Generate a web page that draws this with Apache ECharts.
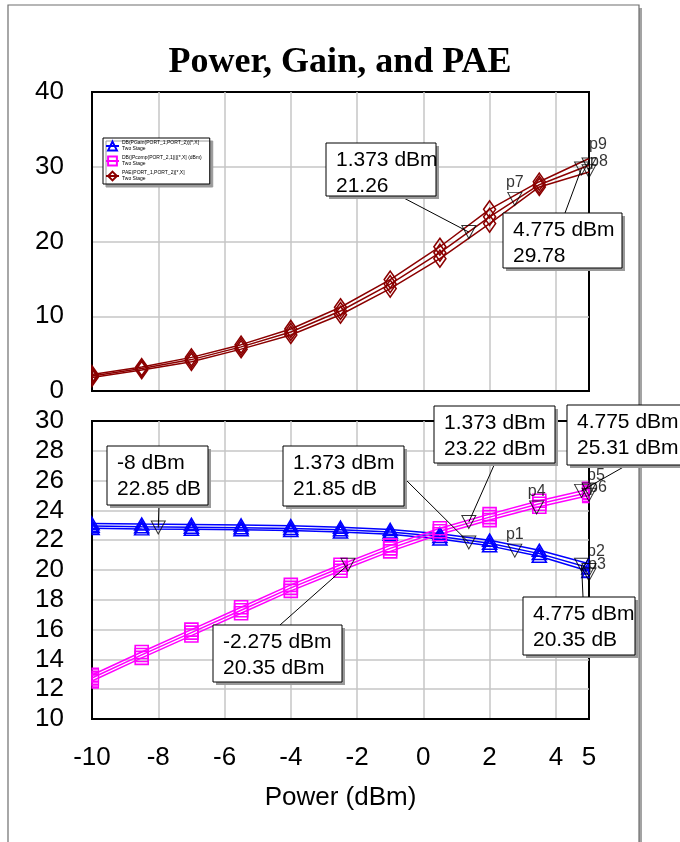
<!DOCTYPE html>
<html>
<head>
<meta charset="utf-8">
<title>Power, Gain, and PAE</title>
<script src="https://cdn.jsdelivr.net/npm/echarts@6/dist/echarts.min.js"></script>
<style>
  html, body { margin: 0; padding: 0; background: #fff; }
  #chart { width: 680px; height: 842px; }
</style>
</head>
<body>
<div id="chart"></div>
<script>
// Input power sweep points (dBm)
const powerIn = [-10, -8.5, -7, -5.5, -4, -2.5, -1, 0.5, 2, 3.5, 5];

// PAE (%) – three traces
const paeUpper = [2.2, 3.2, 4.5, 6.2, 8.3, 11.2, 14.9, 19.3, 24.3, 28.0, 31.1];
const paeMid   = [2.0, 3.0, 4.2, 5.9, 7.9, 10.7, 14.3, 18.5, 23.3, 27.6, 30.2];
const paeLower = [1.8, 2.8, 3.9, 5.6, 7.5, 10.2, 13.7, 17.7, 22.4, 27.3, 29.3];

// Gain (dB) – three traces
const gainUpper = [23.12, 23.08, 23.06, 23.02, 22.97, 22.87, 22.72, 22.44, 22.0, 21.32, 20.42];
const gainMid   = [22.95, 22.9, 22.87, 22.84, 22.79, 22.7, 22.55, 22.25, 21.8, 21.1, 20.15];
const gainLower = [22.8, 22.76, 22.73, 22.7, 22.65, 22.55, 22.4, 22.08, 21.62, 20.92, 19.92];

// Compressed output power (dBm) – three traces
const pcompUpper = [12.95, 14.5, 16.0, 17.5, 19.0, 20.35, 21.65, 22.8, 23.75, 24.65, 25.42];
const pcompMid   = [12.75, 14.3, 15.8, 17.3, 18.8, 20.15, 21.45, 22.6, 23.55, 24.45, 25.2];
const pcompLower = [12.55, 14.1, 15.6, 17.1, 18.6, 19.95, 21.25, 22.4, 23.35, 24.25, 25.0];

// Legend labels
const legendNames = {
  gain: 'DB(PGain(PORT_1,PORT_2))[*,X]',
  pcomp: 'DB(|Pcomp(PORT_2,1)|)[*,X] (dBm)',
  pae: 'PAE(PORT_1,PORT_2)[*,X]'
};
const legendSubtitle = 'Two Stage';

// Named trace markers (grid 0 = PAE, grid 1 = gain / Pcomp)
const topMarkers = [
  { name: '', x: 1.373, y: 21.26 },
  { name: 'p7', x: 2.76, y: 25.7 },
  { name: '', x: 4.775, y: 29.78 },
  { name: 'p9', x: 5, y: 30.3 },
  { name: 'p8', x: 5, y: 29.4 }
];
const bottomMarkers = [
  { name: '', x: -8, y: 22.85 },
  { name: '', x: 1.373, y: 21.85 },
  { name: 'p1', x: 2.76, y: 21.3 },
  { name: '', x: 4.775, y: 20.35 },
  { name: 'p2', x: 5, y: 20.0 },
  { name: 'p3', x: 5, y: 19.7 },
  { name: '', x: -2.275, y: 20.35 },
  { name: '', x: 1.373, y: 23.22 },
  { name: 'p4', x: 3.42, y: 24.2 },
  { name: '', x: 4.775, y: 25.31 },
  { name: 'p5', x: 5, y: 25.4 },
  { name: 'p6', x: 5, y: 25.05 }
];

// Marker readouts shown in boxes
const readouts = [
  { grid: 0, x: 1.373, y: 21.26, unit: '' },
  { grid: 0, x: 4.775, y: 29.78, unit: '' },
  { grid: 1, x: -8, y: 22.85, unit: ' dB' },
  { grid: 1, x: 1.373, y: 21.85, unit: ' dB' },
  { grid: 1, x: 1.373, y: 23.22, unit: ' dBm' },
  { grid: 1, x: 4.775, y: 25.31, unit: ' dBm' },
  { grid: 1, x: 4.775, y: 20.35, unit: ' dB' },
  { grid: 1, x: -2.275, y: 20.35, unit: ' dBm' }
];

// ---- layout & styling ----
const SANS = '"Liberation Sans", Arial, sans-serif';
const SERIF = '"Liberation Serif", "Times New Roman", serif';
const GRID_LINE = { color: '#c6c6c6', width: 1.5 };
const AXIS_FONT = 26;

// readout box geometry: [left, top, width, height, leaderX, leaderY] (leader start relative to box)
const readoutBoxes = [
  [326, 143, 110, 53, 74, 53],
  [503, 213, 119, 55, 62, 0],
  [107, 446, 101, 59, 52, 59],
  [283, 446, 121, 60, 121, 32],
  [434, 406, 121, 57, 61, 57],
  [567, 405, 118, 60, 60, 60],
  [523, 597, 112, 58, 60, 0],
  [213, 625, 129, 57, 67, 0]
];

// label offsets for marker names crowded at the sweep end
const markerLabelOffsets = {
  p9: [9, -20], p8: [10, -10],
  p2: [7, -18], p3: [8, -10],
  p5: [7, -14], p6: [9, -7]
};

// Symbols cut by the plot frame at the ends of the sweep: only the half inside the plot shows.
const halfSymbols = {
  diamond:  { right: 'path://M0,0 L1,1 L0,2 Z', left: 'path://M1,0 L1,2 L0,1 Z' },
  triangle: { right: 'path://M0,0 L1,2 L0,2 Z', left: 'path://M1,0 L1,2 L0,2 Z' },
  rect:     { right: 'path://M0,0 L1,0 L1,1 L0,1 Z', left: 'path://M0,0 L1,0 L1,1 L0,1 Z' }
};

const chart = echarts.init(document.getElementById('chart'), null, { renderer: 'canvas' });

function traceData(ys, symbol, size, showLast) {
  const last = powerIn.length - 1;
  return powerIn.map((x, i) => {
    if (i === 0) {
      return { value: [x, ys[i]], symbol: halfSymbols[symbol].right,
               symbolSize: [size[0] / 2, size[1]], symbolOffset: [size[0] / 4, 0] };
    }
    if (i === last) {
      if (!showLast) return { value: [x, ys[i]], symbol: 'none' };
      return { value: [x, ys[i]], symbol: halfSymbols[symbol].left,
               symbolSize: [size[0] / 2, size[1]], symbolOffset: [-size[0] / 4, 0] };
    }
    return [x, ys[i]];
  });
}

function traceSeries(name, traces, color, symbol, size, g, showLast) {
  return traces.map(ys => ({
    type: 'line',
    name: name,
    xAxisIndex: g,
    yAxisIndex: g,
    data: traceData(ys, symbol, size, showLast),
    symbol: symbol,
    symbolSize: size,
    showSymbol: true,
    showAllSymbol: true,
    lineStyle: { color: color, width: 1.5 },
    itemStyle: { color: 'rgba(255,255,255,0)', borderColor: color, borderWidth: 1.6 },
    emphasis: { disabled: true },
    z: 3
  }));
}

function markerSeries(marks, g) {
  return {
    type: 'scatter',
    xAxisIndex: g,
    yAxisIndex: g,
    symbol: 'triangle',
    symbolRotate: 180,
    symbolSize: [14, 13],
    itemStyle: { color: 'rgba(255,255,255,0)', borderColor: '#000', borderWidth: 1 },
    emphasis: { disabled: true },
    z: 6,
    data: marks.map(m => {
      const off = markerLabelOffsets[m.name];
      return {
        value: [m.x, m.y],
        label: {
          show: m.name !== '',
          formatter: m.name,
          position: off ? 'inside' : 'top',
          offset: off || [0, 0],
          distance: 1,
          fontFamily: SANS,
          fontSize: 16,
          color: '#000'
        }
      };
    })
  };
}

function valueAxis(g, extra) {
  return Object.assign({
    type: 'value',
    gridIndex: g,
    axisTick: { show: false },
    axisLine: { show: true, onZero: false, lineStyle: { color: '#000', width: 2 } },
    splitLine: { show: true, showMinLine: false, showMaxLine: false, lineStyle: GRID_LINE },
    axisLabel: { show: true, fontFamily: SANS, fontSize: AXIS_FONT, color: '#000' }
  }, extra);
}

const option = {
  animation: false,
  backgroundColor: '#fff',
  title: {
    text: 'Power, Gain, and PAE',
    left: 'center',
    top: 40,
    textStyle: { fontFamily: SERIF, fontWeight: 'bold', fontSize: 36, color: '#000' }
  },
  legend: {
    left: 103,
    top: 138,
    orient: 'vertical',
    itemGap: 3,
    itemWidth: 13,
    itemHeight: 11,
    padding: [2, 8, 2, 2],
    backgroundColor: '#fff',
    borderColor: '#000',
    borderWidth: 1,
    shadowColor: '#9a9a9a',
    shadowBlur: 0,
    shadowOffsetX: 3,
    shadowOffsetY: 3,
    selectedMode: false,
    data: [legendNames.gain, legendNames.pcomp, legendNames.pae],
    formatter: n => n + '\n' + legendSubtitle,
    textStyle: { fontFamily: SANS, fontSize: 5, lineHeight: 6, color: '#000', padding: [0, 0, 0, -2] }
  },
  grid: [
    { left: 92, top: 92, width: 497, height: 299, show: true, borderColor: '#000', borderWidth: 2, backgroundColor: 'rgba(0,0,0,0)' },
    { left: 92, top: 421, width: 497, height: 298, show: true, borderColor: '#000', borderWidth: 2, backgroundColor: 'rgba(0,0,0,0)' }
  ],
  xAxis: [
    valueAxis(0, { min: -10, max: 5, interval: 2, axisLabel: { show: false } }),
    valueAxis(1, {
      min: -10, max: 5, interval: 2,
      axisLabel: { show: true, fontFamily: SANS, fontSize: AXIS_FONT, color: '#000', margin: 26 },
      name: 'Power (dBm)',
      nameLocation: 'middle',
      nameGap: 66,
      nameTextStyle: { fontFamily: SANS, fontSize: AXIS_FONT, color: '#000' }
    })
  ],
  yAxis: [
    valueAxis(0, { min: 0, max: 40, interval: 10,
      axisLabel: { show: true, fontFamily: SANS, fontSize: AXIS_FONT, color: '#000', margin: 28 } }),
    valueAxis(1, { min: 10, max: 30, interval: 2,
      axisLabel: { show: true, fontFamily: SANS, fontSize: AXIS_FONT, color: '#000', margin: 28 } })
  ],
  series: [].concat(
    traceSeries(legendNames.pae, [paeUpper, paeMid, paeLower], '#8b0000', 'diamond', [12, 17], 0, false),
    traceSeries(legendNames.gain, [gainUpper, gainMid, gainLower], '#0000ff', 'triangle', [14, 12], 1, true),
    traceSeries(legendNames.pcomp, [pcompUpper, pcompMid, pcompLower], '#ff00ff', 'rect', [13, 13], 1, true),
    [markerSeries(topMarkers, 0), markerSeries(bottomMarkers, 1)]
  )
};

chart.setOption(option);

// Frame, readout boxes and leader lines
const graphics = [
  { type: 'rect', shape: { x: 639, y: 8, width: 3, height: 900 }, style: { fill: '#a3a3a3' }, z: -1, silent: true },
  { type: 'rect', shape: { x: 8, y: 5, width: 631, height: 900 }, style: { fill: 'none', stroke: '#6e6e6e', lineWidth: 1.2 }, z: -1, silent: true }
];

readouts.forEach((r, i) => {
  const [bx, by, bw, bh, ax, ay] = readoutBoxes[i];
  const p = chart.convertToPixel({ xAxisIndex: r.grid, yAxisIndex: r.grid }, [r.x, r.y]);
  graphics.push({
    type: 'line', silent: true, z: 90,
    shape: { x1: bx + ax, y1: by + ay, x2: p[0], y2: p[1] },
    style: { stroke: '#000', lineWidth: 1 }
  });
  graphics.push({
    type: 'rect', silent: true, z: 91,
    shape: { x: bx + 3, y: by + 3, width: bw, height: bh },
    style: { fill: '#9a9a9a' }
  });
  graphics.push({
    type: 'rect', silent: true, z: 92,
    shape: { x: bx, y: by, width: bw, height: bh },
    style: { fill: '#fff', stroke: '#000', lineWidth: 1 }
  });
  graphics.push({
    type: 'text', silent: true, z: 93,
    x: bx + 10, y: by + 4,
    style: {
      text: r.x + ' dBm\n' + r.y.toFixed(2) + r.unit,
      fontFamily: SANS, fontSize: 21, lineHeight: 26,
      fill: '#000', verticalAlign: 'top', align: 'left'
    }
  });
});

chart.setOption({ graphic: graphics });
</script>
</body>
</html>
